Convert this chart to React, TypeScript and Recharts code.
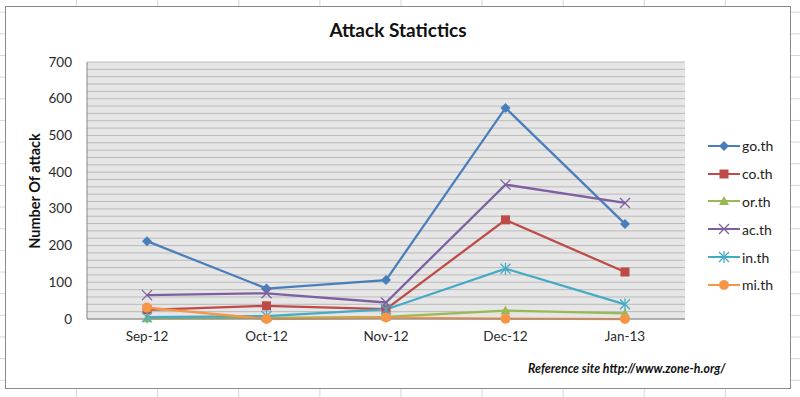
import React from 'react';
import { LineChart, Line, XAxis, YAxis, CartesianGrid } from 'recharts';

const months = ['Sep-12', 'Oct-12', 'Nov-12', 'Dec-12', 'Jan-13'];
const goTh = [212, 83, 106, 575, 259];
const coTh = [25, 36, 27, 270, 128];
const orTh = [2, 3, 6, 23, 15];
const acTh = [65, 70, 45, 366, 316];
const inTh = [5, 8, 26, 137, 40];
const miTh = [31, 0, 4, 1, 0];
const gridTicks: number[] = [];
for (let v = 0; v <= 700; v += 20) gridTicks.push(v);

const seriesKeys = ['go.th', 'co.th', 'or.th', 'ac.th', 'in.th', 'mi.th'];
const seriesValues = [goTh, coTh, orTh, acTh, inTh, miTh];
const colors: Record<string, string> = {
  'go.th': '#4A7EBB',
  'co.th': '#BE4B48',
  'or.th': '#98B954',
  'ac.th': '#7D60A0',
  'in.th': '#46AAC5',
  'mi.th': '#F79646',
};
const shapes: Record<string, string> = {
  'go.th': 'diamond',
  'co.th': 'square',
  'or.th': 'triangle',
  'ac.th': 'x',
  'in.th': 'star',
  'mi.th': 'circle',
};

const data = months.map((m, i) => {
  const row: Record<string, any> = { month: m };
  seriesKeys.forEach((k, j) => {
    row[k] = seriesValues[j][i];
  });
  return row;
});

function Marker({ kind, cx, cy, color }: { kind: string; cx: number; cy: number; color: string }) {
  if (cx == null || cy == null) return null;
  switch (kind) {
    case 'diamond':
      return <polygon points={`${cx},${cy - 5} ${cx + 5},${cy} ${cx},${cy + 5} ${cx - 5},${cy}`} fill={color} />;
    case 'square':
      return <rect x={cx - 4.5} y={cy - 4.5} width={9} height={9} fill={color} />;
    case 'triangle':
      return <polygon points={`${cx},${cy - 5} ${cx + 5},${cy + 4} ${cx - 5},${cy + 4}`} fill={color} />;
    case 'x':
      return (
        <g stroke={color} strokeWidth={1.3}>
          <line x1={cx - 5} y1={cy - 5} x2={cx + 5} y2={cy + 5} />
          <line x1={cx - 5} y1={cy + 5} x2={cx + 5} y2={cy - 5} />
        </g>
      );
    case 'star':
      return (
        <g stroke={color} strokeWidth={1.3}>
          <line x1={cx - 5} y1={cy - 5} x2={cx + 5} y2={cy + 5} />
          <line x1={cx - 5} y1={cy + 5} x2={cx + 5} y2={cy - 5} />
          <line x1={cx} y1={cy - 6} x2={cx} y2={cy + 6} />
        </g>
      );
    default:
      return <circle cx={cx} cy={cy} r={5} fill={color} />;
  }
}

const makeDot = (key: string) => (props: any) => (
  <Marker key={`${key}-${props.index}`} kind={shapes[key]} cx={props.cx} cy={props.cy} color={colors[key]} />
);

const YTick = (props: any) => {
  const { x, y, payload } = props;
  if (payload.value % 100 !== 0) return null;
  return (
    <text x={x} y={y} dy={4.5} textAnchor="end" fontFamily="Lato, sans-serif" fontSize={13.5} fill="#2a2a2a">
      {payload.value}
    </text>
  );
};

export default function App() {
  const bg =
    'linear-gradient(to right, #d6d6d6 1px, transparent 1px), linear-gradient(to bottom, #d6d6d6 1px, transparent 1px)';
  return (
    <div
      style={{
        position: 'absolute',
        left: 0,
        top: 0,
        width: 800,
        height: 397,
        overflow: 'hidden',
        backgroundColor: '#fff',
        backgroundImage: bg,
        backgroundSize: '81.1px 21.67px',
        backgroundPosition: '-5px 11.67px',
        fontFamily: 'Lato, sans-serif',
      }}
    >
      <div
        style={{
          position: 'absolute',
          left: 5,
          top: 6,
          width: 786,
          height: 383,
          background: '#fff',
          border: '1px solid #8a8a8a',
          boxSizing: 'border-box',
        }}
      />
      <div style={{ position: 'absolute', left: 0, top: 0 }}>
        <LineChart width={800} height={397} data={data} margin={{ top: 62, right: 115, bottom: 48, left: 27 }}>
          <CartesianGrid vertical={false} fill="#E6E6E6" stroke="#BABABA" strokeWidth={1} />
          <XAxis
            dataKey="month"
            padding={{ left: 60, right: 60 }}
            tickLine={false}
            axisLine={{ stroke: '#868686' }}
            tickSize={0}
            tickMargin={12}
            height={30}
            tick={{ fontFamily: 'Lato, sans-serif', fontSize: 13.5, fill: '#2a2a2a' }}
          />
          <YAxis
            domain={[0, 700]}
            ticks={gridTicks}
            interval={0}
            tickLine={false}
            axisLine={{ stroke: '#868686' }}
            tickSize={0}
            tickMargin={15}
            width={60}
            tick={<YTick />}
          />
          {seriesKeys.map((k) => (
            <Line
              key={k}
              dataKey={k}
              name={k}
              stroke={colors[k]}
              strokeWidth={2.25}
              dot={makeDot(k)}
              activeDot={false}
              isAnimationActive={false}
            />
          ))}
        </LineChart>
      </div>
      <div style={{ position: 'absolute', left: 707, top: 132, fontSize: 14, color: '#222' }}>
        {seriesKeys.map((key) => (
          <div key={key} style={{ display: 'flex', alignItems: 'center', height: 27.8 }}>
            <svg width={34} height={14} style={{ marginRight: 1 }}>
              <line x1={1} y1={7} x2={33} y2={7} stroke={colors[key]} strokeWidth={2} />
              <Marker kind={shapes[key]} cx={17} cy={7} color={colors[key]} />
            </svg>
            <span>{key}</span>
          </div>
        ))}
      </div>
      <div
        style={{
          position: 'absolute',
          left: 0,
          width: 796,
          top: 18,
          textAlign: 'center',
          fontWeight: 700,
          fontSize: 19,
          color: '#111',
        }}
      >
        Attack Statictics
      </div>
      <div
        style={{
          position: 'absolute',
          left: 34,
          top: 191,
          transform: 'translate(-50%, -50%) rotate(-90deg)',
          whiteSpace: 'nowrap',
          fontWeight: 700,
          fontSize: 14.5,
          color: '#111',
        }}
      >
        Number Of attack
      </div>
      <div
        style={{
          position: 'absolute',
          left: 528,
          top: 361,
          whiteSpace: 'nowrap',
          fontWeight: 700,
          fontStyle: 'italic',
          fontSize: 12.3,
          color: '#111',
        }}
      >
        Reference site http://www.zone-h.org/
      </div>
    </div>
  );
}
